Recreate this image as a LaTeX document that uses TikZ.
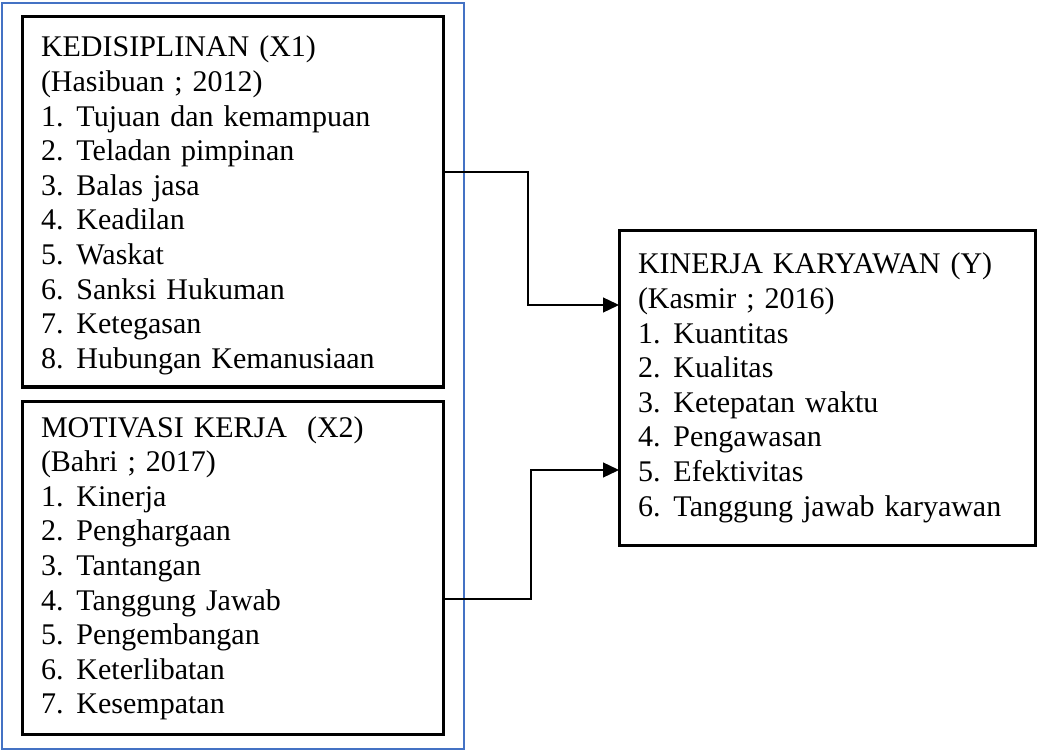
\documentclass[tikz,border=0pt]{standalone}
\usepackage{fontspec}
\setmainfont{Liberation Serif}
\usepackage{xcolor}
\usetikzlibrary{positioning,fit,arrows.meta}
\definecolor{biru}{HTML}{4472C4}
\newcommand{\butir}[2]{\makebox[35.5pt][l]{#1.}#2}
\newcommand{\atas}[1]{\rule{0pt}{#1pt}}
\newcommand{\bawah}[1]{\rule[-#1pt]{0pt}{#1pt}}

\begin{document}
\begin{tikzpicture}[x=1pt,y=1pt,
    every node/.style={font=\fontsize{30}{34.6}\selectfont},
    kotak/.style={draw,line width=3pt,align=left,inner xsep=19pt,inner ysep=0pt,
      outer sep=0pt,anchor=north west},
    bingkai/.style={draw=biru,line width=2pt,inner xsep=20.5pt,inner ysep=14pt},
    panah/.style={line width=1.3pt,-{Triangle[length=16pt,width=15pt]}}]
    \useasboundingbox (0,0) rectangle (1050,-751);
    % variabel bebas
    \node[kotak,text width=383pt] (X1) at (22,-17) {\atas{40}KEDISIPLINAN (X1)\\
      (Hasibuan ; 2012)\\
      \butir{1}{Tujuan dan kemampuan}\\
      \butir{2}{Teladan pimpinan}\\
      \butir{3}{Balas jasa}\\
      \butir{4}{Keadilan}\\
      \butir{5}{Waskat}\\
      \butir{6}{Sanksi Hukuman}\\
      \butir{7}{Ketegasan}\\
      \butir{8}{Hubungan Kemanusiaan}\bawah{18.6}};
    \node[kotak,text width=383pt] (X2) at (22,-401) {\atas{36}MOTIVASI KERJA\ \ (X2)\\
      (Bahri ; 2017)\\
      \butir{1}{Kinerja}\\
      \butir{2}{Penghargaan}\\
      \butir{3}{Tantangan}\\
      \butir{4}{Tanggung Jawab}\\
      \butir{5}{Pengembangan}\\
      \butir{6}{Keterlibatan}\\
      \butir{7}{Kesempatan}\bawah{21}};
    \node[bingkai,fit=(X1)(X2)] (XX) {};
    % variabel terikat
    \node[kotak,text width=378pt] (Y) at (619,-231) {\atas{43}KINERJA KARYAWAN (Y)\\
      (Kasmir ; 2016)\\
      \butir{1}{Kuantitas}\\
      \butir{2}{Kualitas}\\
      \butir{3}{Ketepatan waktu}\\
      \butir{4}{Pengawasan}\\
      \butir{5}{Efektivitas}\\
      \butir{6}{Tanggung jawab karyawan}\bawah{29}};
    \draw[panah] ([yshift=-155pt]X1.north east) -- ++(85,0) |- ([yshift=-74pt]Y.north west);
    \draw[panah] ([yshift=-198pt]X2.north east) -- ++(88,0) |- ([yshift=-239pt]Y.north west);
\end{tikzpicture}
\end{document}
